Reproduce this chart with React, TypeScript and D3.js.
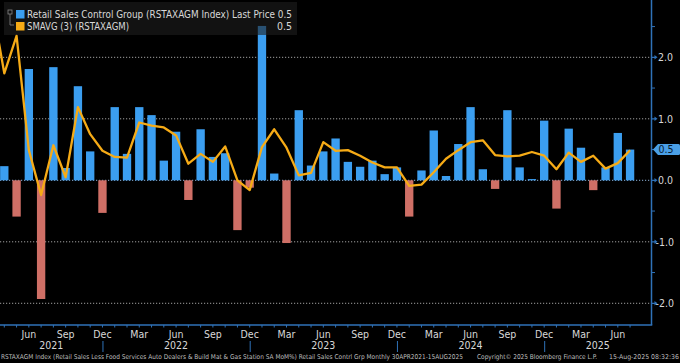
import React from "react";
import * as d3 from "d3";

// Monthly categories: Mar 2021 .. Jul 2025 (Mar 2021 only feeds the line's first, clipped segment)
const months: Date[] = d3.timeMonth.range(new Date(2021, 2, 1), new Date(2025, 7, 1));

// Retail Sales Control Group MoM % (bars)
const retail: (number | null)[] = [
  null, 0.23, -0.59, 1.81, -1.93, 1.84, 0.2, 1.53, 0.47, -0.53,
  1.19, 0.43, 1.19, 1.06, 0.32, 0.79, -0.32, 0.83, 0.38, 0.44, -0.81, -0.12,
  2.51, 0.11, -1.02, 1.14, 0.24, 0.47, 0.68, 0.3, 0.22, 0.32, 0.1, 0.21,
  -0.59, 0.16, 0.81, 0.07, 0.59, 1.19, 0.18, -0.14, 1.14, 0.21, 0.02, 0.97,
  -0.46, 0.84, 0.53, -0.16, 0.21, 0.77, 0.5,
];

// SMAVG (3) line
const smavg: number[] = [
  2.87, 1.74, 2.35, 0.49, -0.24, 0.57, 0.05, 1.19, 0.75, 0.48,
  0.38, 0.37, 0.94, 0.89, 0.86, 0.73, 0.27, 0.43, 0.3, 0.55, 0.0, -0.16,
  0.54, 0.83, 0.53, 0.08, 0.12, 0.62, 0.48, 0.49, 0.4, 0.29, 0.21, 0.21,
  -0.09, -0.07, 0.13, 0.35, 0.49, 0.62, 0.65, 0.41, 0.39, 0.4, 0.46, 0.4,
  0.18, 0.45, 0.3, 0.4, 0.19, 0.28, 0.49,
];

const yMajorTicks = [-2, -1, 0, 1, 2];
const yMinorTicks = [-1.5, -0.5, 0.5, 1.5, 2.5];
const quarterMonths = [2, 5, 8, 11]; // Mar, Jun, Sep, Dec (0-based month)
const monthNames = ["Jan", "Feb", "Mar", "Apr", "May", "Jun", "Jul", "Aug", "Sep", "Oct", "Nov", "Dec"];
const lastPrice = "0.5";
const lastSma = "0.5";

const W = 680;
const H = 363;
const plotRight = 651.5;
const plotBottom = 325;

const BLUE = "#3b9ef0";
const RED = "#cf6f66";
const ORANGE = "#f6ab16";
const AXIS = "#2f72b8";
const TXT = "#d8d8d8";
const FONT = "'Liberation Sans Narrow', 'DejaVu Sans Condensed', 'Arial Narrow', 'Liberation Sans', sans-serif";

export default function App() {
  const keys = months.map((d) => d3.timeFormat("%Y-%m")(d));
  const step = 12.27;
  const aprCenter = 4.3;
  const r0 = aprCenter - step * 1 - step / 2;
  const x = d3
    .scaleBand<string>()
    .domain(keys)
    .range([r0, r0 + step * keys.length])
    .paddingInner(0.32)
    .paddingOuter(0.16);
  const cx = (i: number) => (x(keys[i]) as number) + x.bandwidth() / 2;

  const y = d3.scaleLinear().domain([-2.353, 2.932]).range([plotBottom, 0]);
  const y0 = y(0);

  const line = d3
    .line<number>()
    .x((_, i) => cx(i))
    .y((d) => y(d))
    .curve(d3.curveLinear);

  // year separators at December positions, year label centers between separators
  const decIdx = months.map((d, i) => (d.getMonth() === 11 ? i : -1)).filter((i) => i >= 0);
  const years = [2021, 2022, 2023, 2024, 2025];
  const bounds = [0, ...decIdx.map((i) => cx(i)), plotRight];

  return (
    <svg
      width={W}
      height={H}
      style={{ position: "absolute", left: 0, top: 0, background: "#000", display: "block" }}
      fontFamily={FONT}
    >
      <rect x={0} y={0} width={W} height={H} fill="#000" />
      <defs>
        <clipPath id="plotclip">
          <rect x={0} y={0} width={plotRight} height={plotBottom} />
        </clipPath>
      </defs>

      {/* gridlines */}
      {yMajorTicks.map((t) => (
        <line
          key={"g" + t}
          x1={0}
          x2={plotRight}
          y1={y(t)}
          y2={y(t)}
          stroke={t === 0 ? "#8fb3d9" : "#a0a0a0"}
          strokeWidth={1}
          strokeDasharray="1.2,1.8"
        />
      ))}

      <g clipPath="url(#plotclip)">
        {/* bars */}
        {retail.map((v, i) =>
          v === null ? null : (
            <rect
              key={"b" + i}
              x={x(keys[i])}
              width={x.bandwidth()}
              y={v >= 0 ? y(v) : y0}
              height={Math.abs(y(v) - y0)}
              fill={v >= 0 ? BLUE : RED}
            />
          )
        )}
        {/* SMA line */}
        <path d={line(smavg) || ""} fill="none" stroke={ORANGE} strokeWidth={2.3} strokeLinejoin="round" />
      </g>

      {/* legend */}
      <rect x={4} y={2} width={293} height={33} fill="rgb(30,30,30)" opacity={0.6} />
      <rect x={8} y={10} width={4} height={4} fill="none" stroke="#888" strokeWidth={0.8} />
      <line x1={10} y1={14} x2={10} y2={25} stroke="#888" strokeWidth={0.8} />
      <line x1={10} y1={25} x2={14} y2={25} stroke="#888" strokeWidth={0.8} />
      <rect x={16} y={10} width={8.5} height={8.5} fill={BLUE} />
      <rect x={16} y={22} width={8.5} height={8.5} fill={ORANGE} />
      <text x={27} y={18} fill={TXT} fontSize={10.5} textLength={265} lengthAdjust="spacingAndGlyphs">
        {`Retail Sales Control Group (RSTAXAGM Index) Last Price ${lastPrice}`}
      </text>
      <text x={27} y={30} fill={TXT} fontSize={10.5} textLength={102} lengthAdjust="spacingAndGlyphs">
        SMAVG (3) (RSTAXAGM)
      </text>
      <text x={292} y={30} fill={TXT} fontSize={10.5} textAnchor="end">
        {lastSma}
      </text>

      {/* right axis */}
      <line x1={plotRight} x2={plotRight} y1={0} y2={plotBottom} stroke={AXIS} strokeWidth={1.5} />
      {yMinorTicks.map((t) => (
        <line key={"m" + t} x1={plotRight} x2={plotRight + 3.5} y1={y(t)} y2={y(t)} stroke={AXIS} strokeWidth={1} />
      ))}
      {yMajorTicks.map((t) => (
        <g key={"t" + t}>
          <path
            d={`M${plotRight},${y(t) - 0.6}L${plotRight + 3},${y(t) - 0.6}L${plotRight + 3},${y(t) - 2.2}L${plotRight + 6},${y(t)}L${plotRight + 3},${y(t) + 2.2}L${plotRight + 3},${y(t) + 0.6}L${plotRight},${y(t) + 0.6}Z`}
            fill={AXIS}
          />
          <text x={t < 0 ? 655.5 : 658} y={y(t) + 3.8} fill={TXT} fontSize={10.5}>
            {d3.format(".1f")(t).replace("−", "-")}
          </text>
        </g>
      ))}
      {/* last value label */}
      <path
        d={`M${plotRight + 1.5},${y(0.5)}L${plotRight + 6.5},${y(0.5) - 5.5}L${678.5},${y(0.5) - 5.5}Q680,${y(0.5) - 5.5} 680,${y(0.5) - 4}L680,${y(0.5) + 4}Q680,${y(0.5) + 5.5} ${678.5},${y(0.5) + 5.5}L${plotRight + 6.5},${y(0.5) + 5.5}Z`}
        fill="#4a9fe6"
      />
      <text x={658.5} y={y(0.5) + 3.8} fill="#071a30" fontSize={10.5}>
        {lastPrice}
      </text>

      {/* bottom axis */}
      <line x1={0} x2={plotRight + 0.75} y1={plotBottom} y2={plotBottom} stroke={AXIS} strokeWidth={1.5} />
      {months.map((d, i) =>
        i === 0 ? null : (
          <line key={"xt" + i} x1={cx(i)} x2={cx(i)} y1={plotBottom} y2={plotBottom + 2.5} stroke={AXIS} strokeWidth={1} />
        )
      )}
      {months.map((d, i) =>
        quarterMonths.includes(d.getMonth()) && i > 0 ? (
          <text key={"ml" + i} x={cx(i)} y={338} fill={TXT} fontSize={10.5} textAnchor="middle">
            {monthNames[d.getMonth()]}
          </text>
        ) : null
      )}
      {decIdx.map((i) => (
        <line key={"ys" + i} x1={cx(i) + 0.5} x2={cx(i) + 0.5} y1={341} y2={352} stroke={AXIS} strokeWidth={1} />
      ))}
      {years.map((yr, k) => (
        <text key={"yr" + yr} x={(bounds[k] + bounds[k + 1]) / 2} y={349} fill={TXT} fontSize={10.5} textAnchor="middle">
          {yr}
        </text>
      ))}

      {/* footer */}
      <text x={1} y={358.5} fill="#bdbdbd" fontSize={6.6} textLength={462} lengthAdjust="spacingAndGlyphs">
        RSTAXAGM Index (Retail Sales Less Food Services Auto Dealers &amp; Build Mat &amp; Gas Station SA MoM%) Retail Sales Contrl Grp  Monthly 30APR2021-15AUG2025
      </text>
      <text x={477} y={358.5} fill="#bdbdbd" fontSize={6.6} textLength={120} lengthAdjust="spacingAndGlyphs">
        Copyright© 2025 Bloomberg Finance L.P.
      </text>
      <text x={609} y={358.5} fill="#bdbdbd" fontSize={6.6} textLength={70} lengthAdjust="spacingAndGlyphs">
        15-Aug-2025 08:32:36
      </text>
    </svg>
  );
}
